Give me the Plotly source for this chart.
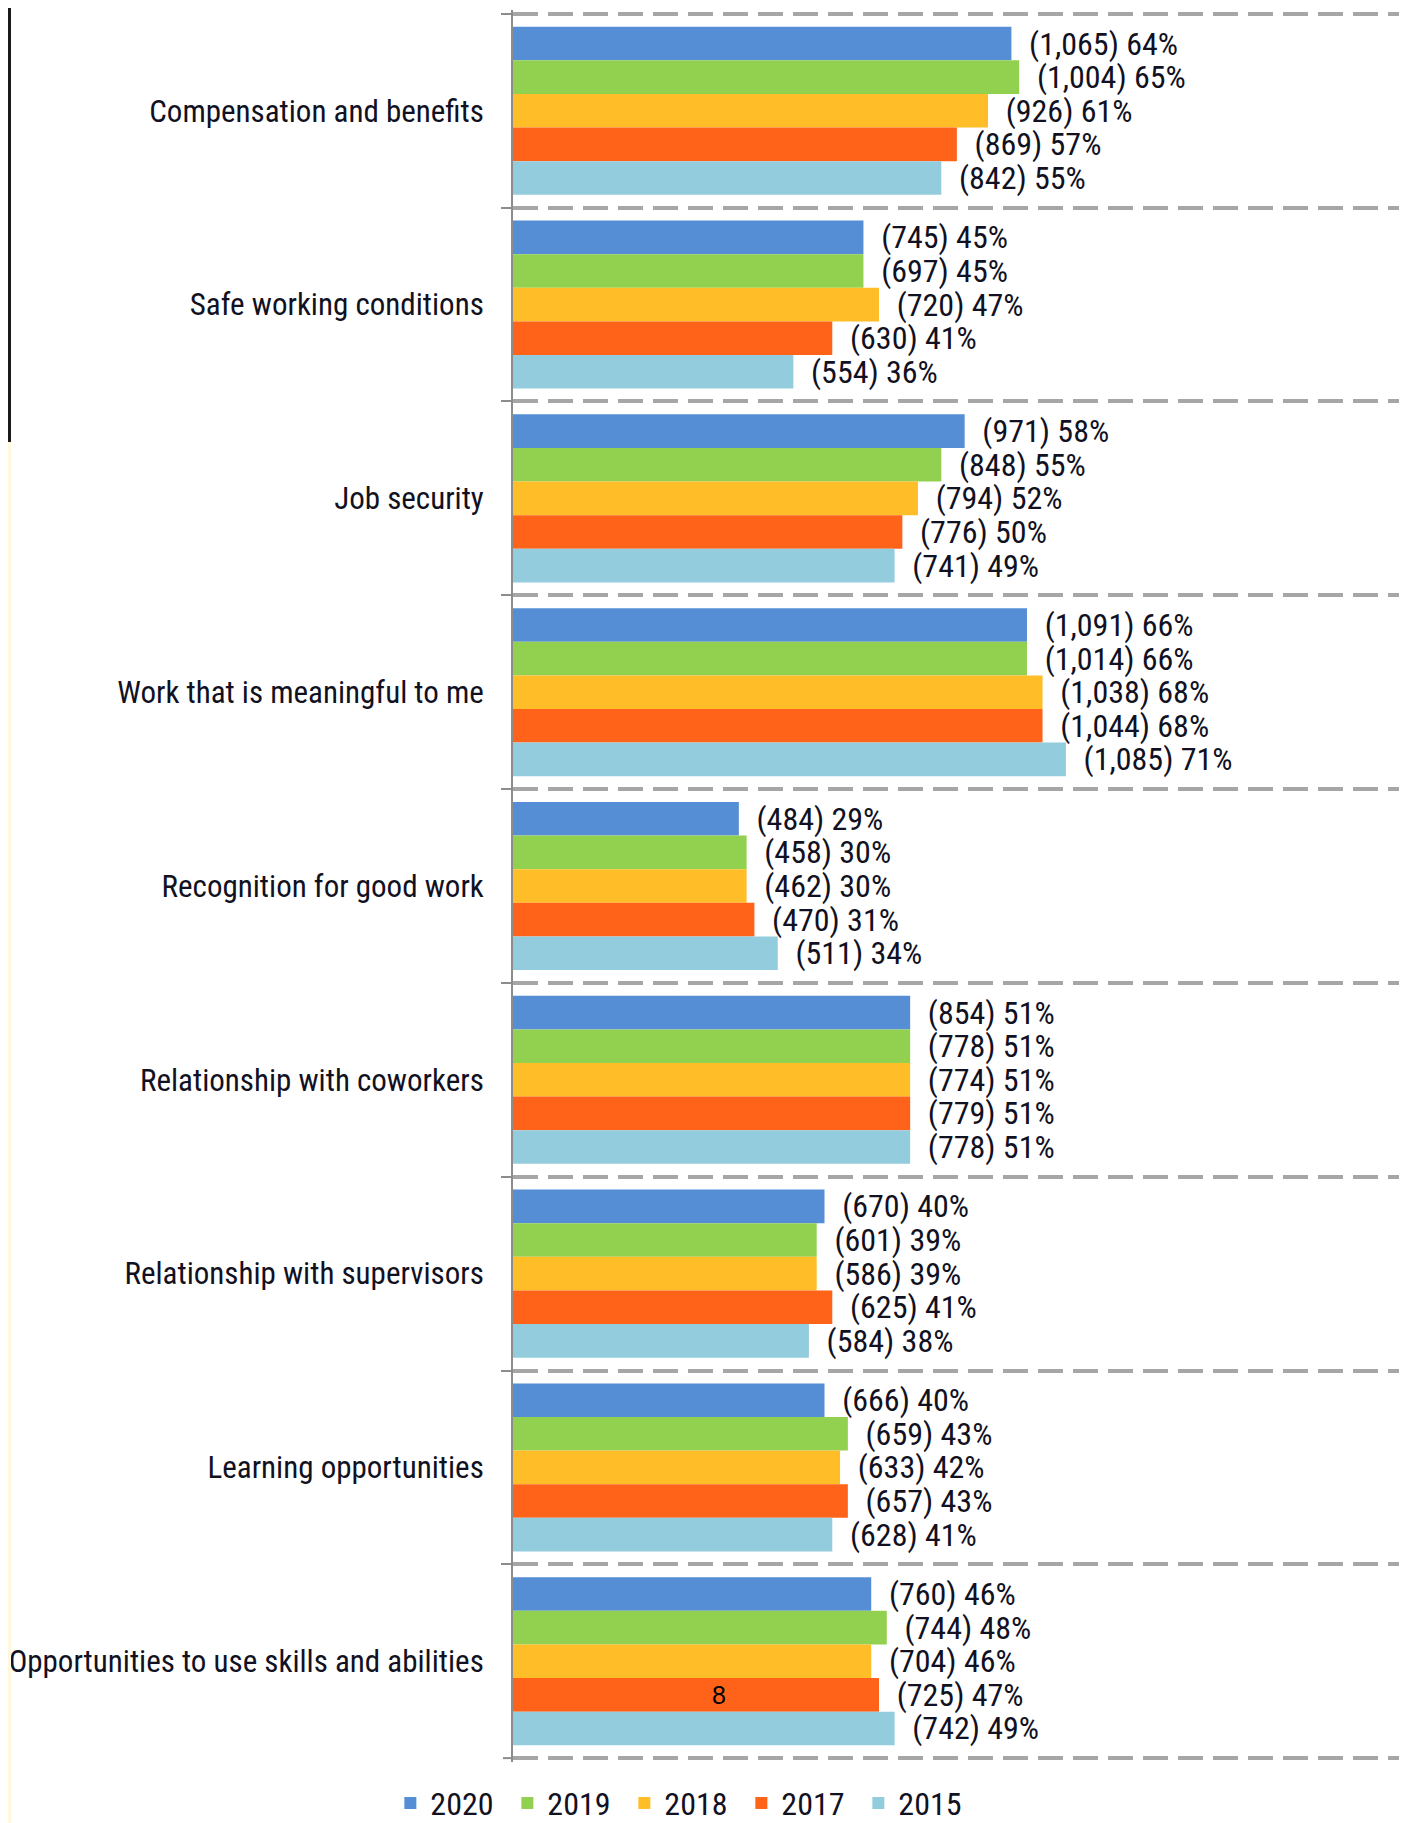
import plotly.graph_objects as go

categories = [
    "Compensation and benefits",
    "Safe working conditions",
    "Job security",
    "Work that is meaningful to me",
    "Recognition for good work",
    "Relationship with coworkers",
    "Relationship with supervisors",
    "Learning opportunities",
    "Opportunities to use skills and abilities",
]

years = ["2020", "2019", "2018", "2017", "2015"]
colors = ["#558ED5", "#92D050", "#FFBE28", "#FF6319", "#93CDDD"]

# respondents (count) per year, same order as categories
counts_2020 = [1065, 745, 971, 1091, 484, 854, 670, 666, 760]
counts_2019 = [1004, 697, 848, 1014, 458, 778, 601, 659, 744]
counts_2018 = [926, 720, 794, 1038, 462, 774, 586, 633, 704]
counts_2017 = [869, 630, 776, 1044, 470, 779, 625, 657, 725]
counts_2015 = [842, 554, 741, 1085, 511, 778, 584, 628, 742]

# percent of respondents per year
pct_2020 = [64, 45, 58, 66, 29, 51, 40, 40, 46]
pct_2019 = [65, 45, 55, 66, 30, 51, 39, 43, 48]
pct_2018 = [61, 47, 52, 68, 30, 51, 39, 42, 46]
pct_2017 = [57, 41, 50, 68, 31, 51, 41, 43, 47]
pct_2015 = [55, 36, 49, 71, 34, 51, 38, 41, 49]

counts = [counts_2020, counts_2019, counts_2018, counts_2017, counts_2015]
pcts = [pct_2020, pct_2019, pct_2018, pct_2017, pct_2015]

FONT = "Liberation Sans Narrow, Arial Narrow, Roboto Condensed, sans-serif"
NB = "\u00a0"
GRID = "#A6A6A6"
AXIS = "#8C8C8C"

fig = go.Figure()
for yr, col, cnt, pc in zip(years, colors, counts, pcts):
    fig.add_trace(
        go.Bar(
            y=categories,
            x=pc,
            orientation="h",
            name=yr,
            marker_color=col,
            marker_line_width=0,
            text=[NB * 2 + "({:,}) {}%".format(c, p) for c, p in zip(cnt, pc)],
            textposition="outside",
            constraintext="none",
            cliponaxis=False,
            textfont=dict(family=FONT, size=32, color="#111122"),
        )
    )

# the page is drawn 8px in from the window corner (body margin), so the
# figure is 8px smaller than the window
EXT = 0.02
fig.update_layout(
    width=1399,
    height=1815,
    margin=dict(l=505, r=0, t=2, b=61, pad=0, autoexpand=False),
    paper_bgcolor="white",
    plot_bgcolor="white",
    barmode="group",
    bargap=0.133,
    bargroupgap=0,
    font=dict(family=FONT, size=32, color="#111111"),
    showlegend=True,
    legend=dict(
        orientation="h",
        x=0.190,
        xanchor="center",
        y=-0.0235,
        yanchor="middle",
        font=dict(family=FONT, size=32, color="#111122"),
        itemwidth=30,
        entrywidth=72,
        traceorder="normal",
        bgcolor="rgba(0,0,0,0)",
    ),
)

fig.update_xaxes(
    range=[0, 114.8],
    showgrid=False,
    showticklabels=False,
    zeroline=False,
    showline=False,
    ticks="",
    automargin=False,
)

fig.update_yaxes(
    type="category",
    range=[len(categories) - 0.5 + EXT, -0.5 - EXT],
    tickson="boundaries",
    showgrid=True,
    gridcolor=GRID,
    gridwidth=4,
    griddash="25px,10px",
    showline=True,
    linecolor=AXIS,
    linewidth=2,
    ticks="outside",
    ticklen=10,
    tickwidth=2,
    tickcolor=AXIS,
    ticklabelstandoff=21,
    tickfont=dict(family=FONT, size=31, color="#111122"),
    automargin=False,
)

# closing dashed line below the last category (plotly skips the last boundary)
last = len(categories) - 0.5
fig.add_shape(type="line", xref="paper", yref="y", x0=0, x1=1, y0=last, y1=last,
              line=dict(color=GRID, width=4, dash="25px,10px"), layer="below")
fig.add_shape(type="line", xref="paper", yref="y", x0=-10 / 894, x1=0, y0=last, y1=last,
              line=dict(color=AXIS, width=2))

# page number that sits on the chart
fig.add_annotation(
    text="8",
    xref="paper", yref="paper",
    x=0.2204, y=0.029,
    showarrow=False,
    font=dict(family="Liberation Sans, Arial, sans-serif", size=25, color="black"),
)

# left edge strips from the scanned page
fig.add_shape(type="rect", xref="paper", yref="paper",
              x0=-505 / 894, x1=-502 / 894, y0=(1754 - 434) / 1752, y1=1.01,
              fillcolor="#1A1A1A", line_width=0, layer="above")
fig.add_shape(type="rect", xref="paper", yref="paper",
              x0=-505 / 894, x1=-502 / 894, y0=-61 / 1752, y1=(1754 - 434) / 1752,
              fillcolor="#FFF8DC", line_width=0, layer="above")

fig.write_html("out.html")
